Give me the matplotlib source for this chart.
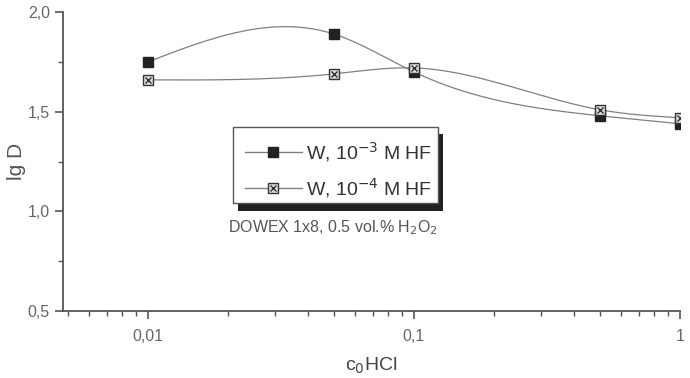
import numpy as np
import matplotlib
matplotlib.use("Agg")
import matplotlib.pyplot as plt
from matplotlib.patches import Rectangle
from matplotlib.ticker import FixedLocator, LogLocator, NullFormatter, MultipleLocator

plt.rcParams['font.family'] = ['Liberation Sans', 'DejaVu Sans']

c_hcl = [0.01, 0.05, 0.1, 0.5, 1.0]
lgD_hf3 = [1.75, 1.89, 1.70, 1.48, 1.44]
lgD_hf4 = [1.66, 1.69, 1.72, 1.51, 1.47]
x_ticks = [0.01, 0.1, 1]
x_ticklabels = ["0,01", "0,1", "1"]
y_ticks = [0.5, 1.0, 1.5, 2.0]
y_ticklabels = ["0,5", "1,0", "1,5", "2,0"]

GRAY = "#555555"


def natural_spline(x, y, n=200):
    # natural cubic spline through the points (x already in log space)
    x = np.asarray(x, float)
    y = np.asarray(y, float)
    k = len(x)
    h = np.diff(x)
    A = np.zeros((k, k))
    b = np.zeros(k)
    A[0, 0] = A[-1, -1] = 1
    for i in range(1, k - 1):
        A[i, i - 1] = h[i - 1]
        A[i, i] = 2 * (h[i - 1] + h[i])
        A[i, i + 1] = h[i]
        b[i] = 3 * ((y[i + 1] - y[i]) / h[i] - (y[i] - y[i - 1]) / h[i - 1])
    c = np.linalg.solve(A, b)
    xs = np.linspace(x[0], x[-1], n)
    ys = np.empty_like(xs)
    for j, xv in enumerate(xs):
        i = min(np.searchsorted(x, xv, side="right") - 1, k - 2)
        bi = (y[i + 1] - y[i]) / h[i] - h[i] * (2 * c[i] + c[i + 1]) / 3
        di = (c[i + 1] - c[i]) / (3 * h[i])
        t = xv - x[i]
        ys[j] = y[i] + bi * t + c[i] * t ** 2 + di * t ** 3
    return xs, ys


fig = plt.figure(figsize=(6.9, 3.78), dpi=100)
ax = fig.add_axes([0.0913, 0.177, 0.8942, 0.791])

for yv in (lgD_hf3, lgD_hf4):
    xs, ys = natural_spline(np.log10(c_hcl), yv)
    ax.plot(10 ** xs, ys, color="#808080", lw=0.9, zorder=2)

ax.plot(c_hcl, lgD_hf3, ls="none", marker="s", ms=7, mfc="#222222", mec="#222222", zorder=3)
ax.plot(c_hcl, lgD_hf4, ls="none", marker="s", ms=7, mfc="#dddddd", mec="#333333", mew=1.0, zorder=3)
ax.plot(c_hcl, lgD_hf4, ls="none", marker="x", ms=4, mec="#333333", mew=1.0, zorder=4)

ax.set_xscale("log")
ax.set_xlim(0.0048, 1.0)
ax.set_ylim(0.5, 2.0)
ax.xaxis.set_major_locator(FixedLocator(x_ticks))
ax.set_xticklabels(x_ticklabels)
ax.xaxis.set_minor_locator(LogLocator(base=10, subs=np.arange(2, 10)))
ax.xaxis.set_minor_formatter(NullFormatter())
ax.yaxis.set_major_locator(FixedLocator(y_ticks))
ax.set_yticklabels(y_ticklabels)
ax.yaxis.set_minor_locator(MultipleLocator(0.25))

for s in ("top", "right"):
    ax.spines[s].set_visible(False)
for s in ("left", "bottom"):
    ax.spines[s].set_color(GRAY)
    ax.spines[s].set_linewidth(1.3)
ax.tick_params(which="major", direction="out", length=6, width=1.2, color=GRAY,
               labelsize=11.5, labelcolor="#666666")
ax.tick_params(axis="x", which="major", pad=7)
ax.tick_params(which="minor", direction="out", length=3.5, width=1.0, color=GRAY)

ax.set_ylabel("lg D", fontsize=15, color="#555555", labelpad=1)
ax.set_xlabel("c$_0$HCl", fontsize=14, color="#444444", labelpad=8)

# legend box with solid shadow
fig.patches.append(Rectangle((0.345, 0.442), 0.297, 0.204, transform=fig.transFigure,
                             facecolor="#222222", edgecolor="none", zorder=5))
fig.patches.append(Rectangle((0.338, 0.463), 0.297, 0.201, transform=fig.transFigure,
                             facecolor="white", edgecolor="#555555", lw=1.0, zorder=6))

rows = [(0.597, "#222222", "#222222", False, "W, 10$^{-3}$ M HF"),
        (0.503, "#dddddd", "#333333", True, "W, 10$^{-4}$ M HF")]
for ry, fc, ec, cross, label in rows:
    fig.add_artist(plt.Line2D([0.355, 0.438], [ry, ry], transform=fig.transFigure,
                              color="#808080", lw=1.0, zorder=7))
    fig.add_artist(plt.Line2D([0.396], [ry], transform=fig.transFigure, ls="none",
                              marker="s", ms=7, mfc=fc, mec=ec, zorder=8))
    if cross:
        fig.add_artist(plt.Line2D([0.396], [ry], transform=fig.transFigure, ls="none",
                                  marker="x", ms=4, mec=ec, mew=1.0, zorder=9))
    fig.text(0.444, ry, label, fontsize=14, color="#333333", va="center", ha="left", zorder=9)

fig.text(0.331, 0.398, "DOWEX 1x8, 0.5 vol.% H$_2$O$_2$", fontsize=11.5, color="#555555",
         va="center", ha="left")

fig.savefig("out.png", dpi=100)
